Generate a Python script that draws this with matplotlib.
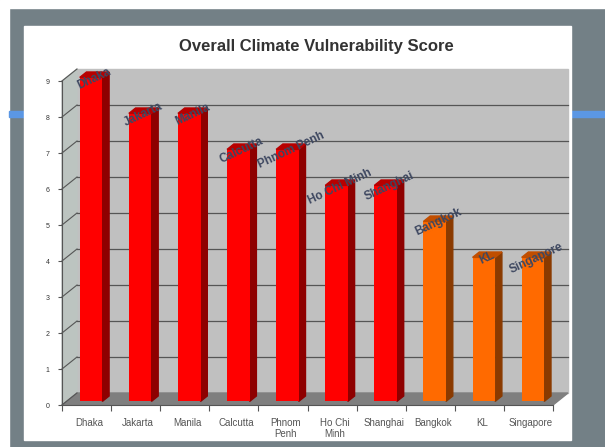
import matplotlib
matplotlib.use("Agg")
import matplotlib.pyplot as plt
from matplotlib.patches import Rectangle, Polygon

plt.rcParams["font.family"] = ["Liberation Sans", "DejaVu Sans"]

cities = ["Dhaka", "Jakarta", "Manila", "Calcutta", "Phnom\nPenh",
          "Ho Chi\nMinh", "Shanghai", "Bangkok", "KL", "Singapore"]
bar_labels = ["Dhaka", "Jakarta", "Manila", "Calcutta", "Phnom Penh",
              "Ho Chi Minh", "Shanghai", "Bangkok", "KL", "Singapore"]
scores = [9, 8, 8, 7, 7, 6, 6, 5, 4, 4]
y_ticks = list(range(10))

# red for the worst group, orange for the rest
front_cols = ["#ff0000"] * 7 + ["#ff6a00"] * 3
side_cols = ["#8e0000"] * 7 + ["#8a3a00"] * 3
top_cols = ["#b80000"] * 7 + ["#c04e00"] * 3

W, H = 605, 447
fig = plt.figure(figsize=(W / 100, H / 100), dpi=100)
fig.patch.set_facecolor("#738086")


def fig_rect(x0, y0, x1, y1, color):
    # rectangle given in image pixels (origin top-left)
    fig.patches.append(Rectangle((x0 / W, 1 - y1 / H), (x1 - x0) / W, (y1 - y0) / H,
                                 transform=fig.transFigure, color=color, zorder=-5))


fig_rect(0, 0, W, 8, "white")
fig_rect(0, 0, 9, H, "white")
fig_rect(9, 111, 24, 117, "#5b97e4")
fig_rect(571, 111, W, 117, "#5b97e4")
fig_rect(24, 26, 571, 440, "white")

fig.text(316 / W, 1 - 47 / H, "Overall Climate Vulnerability Score",
         ha="center", va="center", fontsize=12, fontweight="bold", color="#333333")

ax = fig.add_axes([62 / W, 42 / H, 491 / W, 324 / H])
n = len(scores)
ax.set_xlim(0, n)
ax.set_ylim(0, 9)
ax.patch.set_visible(False)

# depth of the 3d box in data units (15 px right, 12 px up)
ddx = 15 / (491 / n)
ddy = 12 / (324 / 9)

ax.add_patch(Rectangle((ddx, ddy), n, 9, color="#c0c0c0", zorder=0, clip_on=False))
ax.add_patch(Polygon([(0, 0), (0, 9), (ddx, 9 + ddy), (ddx, ddy)],
                     color="#bcc4c0", zorder=0, clip_on=False))
ax.add_patch(Polygon([(0, 0), (n, 0), (n + ddx, ddy), (ddx, ddy)],
                     color="#7f7f7f", zorder=0.5, clip_on=False))
for t in y_ticks:
    if 0 < t < 9:
        ax.plot([ddx, n + ddx], [t + ddy, t + ddy], color="#555555", lw=0.9,
                zorder=0.6, clip_on=False)
    ax.plot([0, ddx], [t, t + ddy], color="#555555", lw=0.8, zorder=0.6, clip_on=False)

# bars: front face, side and top
f0, fd, w = 0.3, 0.45, 0.46
xs = [i + 0.5 + f0 * ddx for i in range(n)]
ax.bar(xs, scores, width=w, bottom=f0 * ddy, color=front_cols, zorder=3,
       clip_on=False)
for x, v, sc, tc in zip(xs, scores, side_cols, top_cols):
    xr, xl = x + w / 2, x - w / 2
    top = v + f0 * ddy
    ax.add_patch(Polygon([(xr, f0 * ddy), (xr, top), (xr + fd * ddx, top + fd * ddy),
                          (xr + fd * ddx, (f0 + fd) * ddy)],
                         color=sc, zorder=2.9, clip_on=False))
    ax.add_patch(Polygon([(xl, top), (xr, top), (xr + fd * ddx, top + fd * ddy),
                          (xl + fd * ddx, top + fd * ddy)],
                         color=tc, zorder=3.1, clip_on=False))

for x, v, lab in zip(xs, scores, bar_labels):
    ax.text(x + fd * ddx / 2, v + (f0 + fd / 2) * ddy - 0.1, lab, rotation=25,
            ha="center", va="center", rotation_mode="anchor", fontsize=8.5,
            fontweight="bold", color="#3d4760", zorder=5, clip_on=False)

for s in ["top", "right"]:
    ax.spines[s].set_visible(False)
for s in ["left", "bottom"]:
    ax.spines[s].set_color("#555555")
    ax.spines[s].set_linewidth(0.8)
    ax.spines[s].set_zorder(4)

ax.set_yticks(y_ticks)
ax.set_yticklabels([str(t) for t in y_ticks])
ax.tick_params(axis="y", length=3, width=0.8, color="#555555", labelsize=5,
               labelcolor="#333333", pad=6)
ax.set_xticks(range(n + 1))
ax.set_xticklabels([])
ax.tick_params(axis="x", which="major", length=4, width=0.8, color="#555555")
ax.set_xticks([i + 0.55 for i in range(n)], minor=True)
ax.set_xticklabels(cities, minor=True)
ax.tick_params(axis="x", which="minor", length=0, labelsize=7, labelcolor="#555555",
               pad=9)
for lbl in ax.get_xticklabels(minor=True):
    lbl.set_linespacing(1.2)

fig.savefig("out.png", dpi=100, facecolor=fig.get_facecolor())
